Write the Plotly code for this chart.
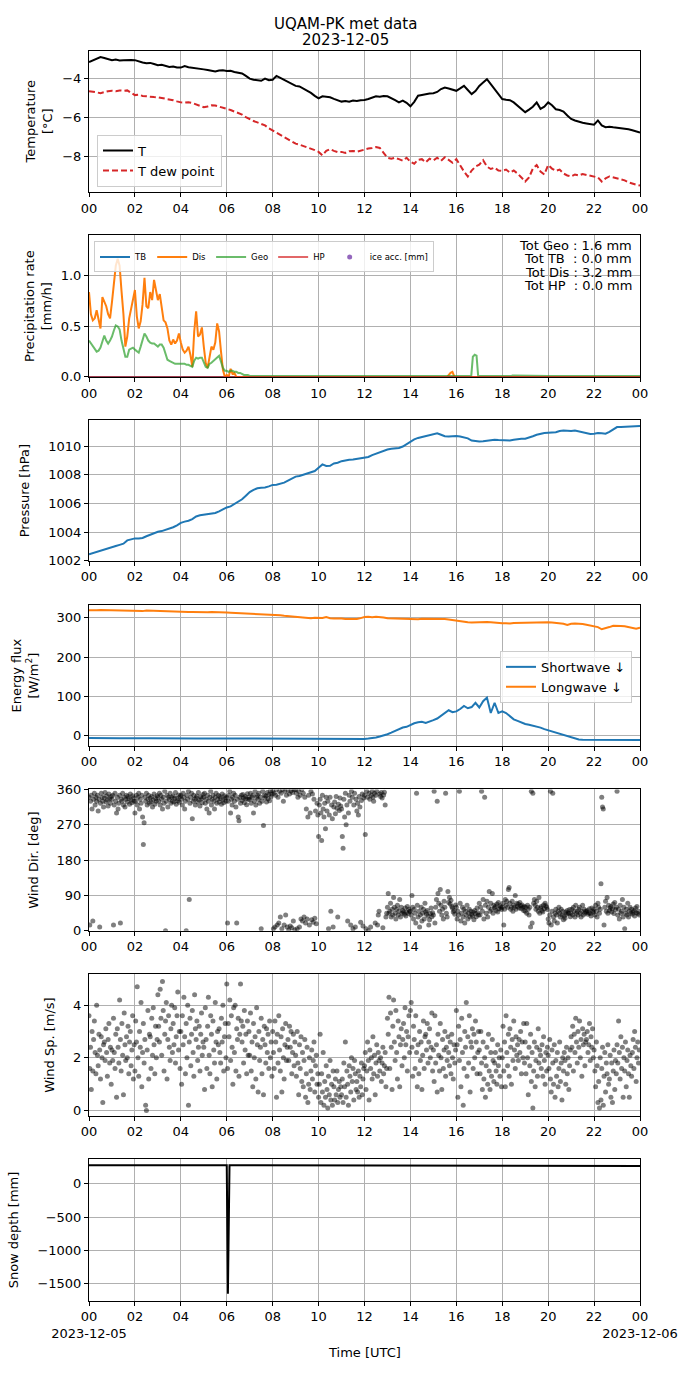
import pandas as pd
import plotly.graph_objects as go
from plotly.subplots import make_subplots

day = pd.Timestamp("2023-12-05")
t10 = pd.date_range(day, periods=145, freq="10min")
t5_early = pd.date_range(day, periods=85, freq="5min")
t2 = pd.date_range(day, periods=720, freq="2min")

hour_labels = ["00", "02", "04", "06", "08", "10", "12", "14", "16", "18", "20", "22", "00"]
bottom_labels = ["00<br>2023-12-05", "02", "04", "06", "08", "10", "12", "14", "16", "18", "20", "22",
                 "00<br>2023-12-06"]

# temperature, 10 min
temp = [-3.18, -3.10, -3.02, -2.92, -2.97, -3.04,
        -3.08, -3.05, -3.10, -3.08, -3.06, -3.07,
        -3.08, -3.15, -3.20, -3.24, -3.22, -3.28,
        -3.34, -3.32, -3.38, -3.43, -3.40, -3.45,
        -3.46, -3.38, -3.44, -3.46, -3.48, -3.52,
        -3.55, -3.58, -3.62, -3.66, -3.61, -3.60,
        -3.63, -3.62, -3.68, -3.71, -3.76, -3.88,
        -4.02, -4.08, -4.12, -4.13, -4.02, -4.10,
        -4.08, -3.88, -3.98, -4.08, -4.18, -4.28,
        -4.39, -4.42, -4.52, -4.64, -4.75, -4.90,
        -5.03, -4.92, -4.95, -4.97, -5.05, -5.12,
        -5.19, -5.16, -5.20, -5.14, -5.16, -5.12,
        -5.11, -5.06, -5.00, -4.92, -4.94, -4.90,
        -4.92, -5.00, -5.12, -5.23, -5.14, -5.25,
        -5.43, -5.20, -4.89, -4.85, -4.80, -4.78,
        -4.76, -4.70, -4.55, -4.47, -4.52, -4.58,
        -4.64, -4.52, -4.39, -4.60, -4.81, -4.65,
        -4.39, -4.22, -4.05, -4.30, -4.55, -4.85,
        -5.06, -5.10, -5.12, -5.23, -5.40, -5.60,
        -5.73, -5.60, -5.45, -5.23, -5.56, -5.45,
        -5.23, -5.38, -5.58, -5.62, -5.70, -5.90,
        -6.07, -6.15, -6.22, -6.27, -6.30, -6.35,
        -6.37, -6.15, -6.40, -6.49, -6.47, -6.50,
        -6.52, -6.54, -6.57, -6.60, -6.65, -6.70,
        -6.77]
dewpoint = [-4.66, -4.68, -4.72, -4.76, -4.70, -4.66,
            -4.64, -4.66, -4.62, -4.64, -4.62, -4.72,
            -4.86, -4.84, -4.90, -4.92, -4.95, -4.96,
            -4.97, -5.00, -5.05, -5.09, -5.12, -5.18,
            -5.23, -5.24, -5.22, -5.26, -5.34, -5.42,
            -5.48, -5.44, -5.38, -5.39, -5.46, -5.52,
            -5.56, -5.62, -5.70, -5.76, -5.85, -5.98,
            -6.10, -6.18, -6.25, -6.32, -6.40, -6.55,
            -6.66, -6.75, -6.88, -6.99, -7.10, -7.22,
            -7.33, -7.38, -7.45, -7.50, -7.58, -7.66,
            -7.75, -7.92, -7.70, -7.61, -7.70, -7.76,
            -7.75, -7.80, -7.72, -7.70, -7.74, -7.68,
            -7.61, -7.58, -7.55, -7.50, -7.55, -7.80,
            -8.05, -8.10, -8.05, -8.12, -8.20, -8.05,
            -8.25, -8.35, -8.15, -8.12, -8.28, -8.10,
            -8.18, -8.05, -8.20, -8.02, -8.15, -8.30,
            -8.12, -8.45, -8.75, -9.00, -8.70, -8.50,
            -8.40, -8.17, -8.50, -8.62, -8.55, -8.70,
            -8.72, -8.65, -8.80, -8.70, -8.85, -9.05,
            -9.26, -9.05, -8.60, -8.42, -8.75, -8.90,
            -8.42, -8.60, -8.72, -8.65, -8.85, -8.95,
            -9.00, -8.90, -8.95, -8.88, -8.92, -8.95,
            -8.98, -9.05, -9.26, -9.10, -9.00, -9.05,
            -9.08, -9.15, -9.20, -9.30, -9.38, -9.42,
            -9.46]

# precipitation rate [mm/h], 5 min until 07 h, then sparse points
dis_early = [0.84, 0.62, 0.56, 0.58, 0.66, 0.55, 0.48, 0.79, 0.75, 0.70, 0.62, 0.58,
             0.74, 0.95, 1.10, 1.17, 1.10, 0.85, 0.62, 0.30, 0.40, 0.58, 0.68, 0.78,
             0.86, 0.60, 0.48, 0.55, 0.72, 0.98, 0.70, 0.68, 0.84, 0.76, 0.96, 0.86,
             0.76, 0.82, 0.70, 0.56, 0.54, 0.48, 0.36, 0.32, 0.37, 0.33, 0.36, 0.43,
             0.34, 0.27, 0.24, 0.26, 0.30, 0.22, 0.10, 0.45, 0.65, 0.40, 0.42, 0.49,
             0.30, 0.14, 0.09, 0.18, 0.30, 0.27, 0.34, 0.53, 0.45, 0.25, 0.07, 0.00,
             0.02, 0.00, 0.08, 0.03, 0.04, 0.00, 0.00, 0.00, 0.00, 0.00, 0.00, 0.00,
             0.00]
geo_early = [0.36, 0.33, 0.31, 0.28, 0.25, 0.26, 0.29, 0.35, 0.41, 0.36, 0.33, 0.36,
             0.40, 0.46, 0.51, 0.50, 0.47, 0.36, 0.26, 0.20, 0.20, 0.27, 0.28, 0.29,
             0.27, 0.25, 0.24, 0.30, 0.36, 0.43, 0.40, 0.36, 0.34, 0.33, 0.33, 0.31,
             0.30, 0.32, 0.32, 0.29, 0.22, 0.17, 0.16, 0.15, 0.14, 0.13, 0.13, 0.13,
             0.13, 0.13, 0.13, 0.12, 0.12, 0.11, 0.10, 0.16, 0.19, 0.18, 0.19, 0.19,
             0.15, 0.10, 0.09, 0.13, 0.14, 0.16, 0.17, 0.20, 0.21, 0.15, 0.09, 0.06,
             0.06, 0.05, 0.06, 0.06, 0.05, 0.05, 0.04, 0.04, 0.03, 0.02, 0.02, 0.02,
             0.01]
dis_late_hours = [8, 12, 15.6, 15.75, 15.83, 15.92, 20, 24]
dis_late = [0.0, 0.0, 0.0, 0.04, 0.05, 0.0, 0.0, 0.0]
geo_late_hours = [8, 9.5, 9.6, 9.7, 12, 14, 16.65, 16.72, 16.8, 16.88, 16.95, 18.4, 18.45, 20, 21.8, 21.85, 24]
geo_late = [0.01, 0.01, 0.015, 0.01, 0.01, 0.01, 0.01, 0.20, 0.22, 0.21, 0.01, 0.01, 0.015, 0.01, 0.01, 0.015, 0.01]
zero_hours = [0, 24]
tb_rate = [0.0, 0.0]
hp_rate = [0.0, 0.0]
totals = ["Tot Geo : 1.6 mm", "Tot TB \u00a0: 0.0 mm", "Tot Dis : 3.2 mm", "Tot HP \u00a0: 0.0 mm"]

pressure = [1002.46, 1002.55, 1002.64, 1002.72, 1002.80, 1002.88,
            1002.97, 1003.04, 1003.12, 1003.20, 1003.43, 1003.48,
            1003.57, 1003.56, 1003.60, 1003.72, 1003.84, 1003.92,
            1004.03, 1004.08, 1004.16, 1004.26, 1004.35, 1004.48,
            1004.65, 1004.74, 1004.80, 1004.92, 1005.10, 1005.18,
            1005.23, 1005.26, 1005.30, 1005.34, 1005.46, 1005.60,
            1005.73, 1005.80, 1005.95, 1006.15, 1006.30, 1006.55,
            1006.80, 1006.96, 1007.07, 1007.10, 1007.12, 1007.20,
            1007.30, 1007.32, 1007.38, 1007.46, 1007.60, 1007.74,
            1007.88, 1007.92, 1008.02, 1008.10, 1008.20, 1008.27,
            1008.50, 1008.73, 1008.62, 1008.64, 1008.80, 1008.85,
            1008.96, 1009.02, 1009.05, 1009.08, 1009.12, 1009.15,
            1009.19, 1009.25, 1009.38, 1009.49, 1009.60, 1009.70,
            1009.77, 1009.82, 1009.85, 1009.88, 1009.98, 1010.15,
            1010.35, 1010.48, 1010.58, 1010.65, 1010.72, 1010.80,
            1010.85, 1010.90, 1010.80, 1010.70, 1010.68, 1010.72,
            1010.72, 1010.68, 1010.62, 1010.55, 1010.40, 1010.35,
            1010.33, 1010.35, 1010.40, 1010.42, 1010.45, 1010.43,
            1010.42, 1010.38, 1010.40, 1010.45, 1010.50, 1010.52,
            1010.53, 1010.60, 1010.70, 1010.80, 1010.88, 1010.92,
            1010.94, 1010.96, 1010.98, 1011.06, 1011.10, 1011.08,
            1011.06, 1011.10, 1011.05, 1010.98, 1010.90, 1010.86,
            1010.88, 1010.92, 1010.90, 1010.88, 1011.00, 1011.20,
            1011.34, 1011.35, 1011.36, 1011.37, 1011.38, 1011.40,
            1011.42]

shortwave = [-5.5, -5.8, -6.0, -5.9, -6.1, -6.0,
             -6.2, -6.0, -6.3, -6.1, -6.4, -6.2,
             -6.3, -6.5, -6.4, -6.2, -6.3, -6.5,
             -6.4, -6.2, -6.3, -6.5, -6.4, -6.3,
             -6.2, -6.4, -6.3, -6.5, -6.6, -6.4,
             -6.5, -6.3, -6.6, -6.4, -6.5, -6.7,
             -6.8, -6.6, -6.7, -6.9, -6.8, -7.0,
             -6.9, -7.1, -7.0, -6.8, -7.0, -7.2,
             -7.1, -7.0, -7.2, -7.3, -7.1, -7.0,
             -7.2, -7.4, -7.3, -7.5, -7.6, -7.8,
             -8.0, -8.2, -8.1, -8.4, -8.6, -8.8,
             -9.2, -9.0, -8.7, -8.4, -8.2, -8.0,
             -7.8, -7.0, -6.0, -4.0, -1.5, 1.0,
             4.0, 8.0, 12.5, 17.0, 21.0, 23.0,
             28.0, 32.0, 34.5, 36.0, 33.0, 37.5,
             40.0, 44.0, 51.0, 58.0, 65.0, 60.0,
             62.0, 68.0, 76.0, 70.0, 73.0, 84.0,
             72.0, 88.0, 97.0, 58.0, 84.0, 58.0,
             62.0, 58.0, 50.0, 42.0, 38.0, 33.0,
             30.0, 28.0, 26.0, 23.0, 21.0, 17.0,
             14.0, 11.0, 9.0, 6.0, 3.0, 0.0,
             -4.0, -7.0, -9.0, -10.0, -10.0, -9.6,
             -9.8, -10.0, -10.2, -10.0, -9.8, -10.3,
             -10.5, -10.6, -10.2, -10.4, -10.5, -10.6,
             -10.5]
longwave = [318.6, 318.0, 318.8, 319.5, 319.2, 319.0,
            319.4, 318.8, 319.2, 318.5, 318.2, 318.0,
            317.8, 317.2, 316.5, 318.0, 317.5, 317.2,
            317.0, 316.5, 316.0, 315.8, 315.2, 314.8,
            314.0, 313.8, 314.2, 314.5, 314.0, 314.6,
            314.0, 313.5, 314.0, 313.2, 313.0, 312.8,
            312.7, 312.5, 312.0, 311.5, 311.0, 310.8,
            310.0, 310.5, 309.8, 309.0, 308.2, 307.5,
            306.8, 307.2, 306.0, 304.5, 303.5, 302.5,
            301.7, 301.0, 300.5, 299.0, 298.5, 299.5,
            300.0, 299.0, 301.5, 298.5, 297.8, 298.2,
            297.5, 296.8, 297.2, 295.8, 296.5, 298.8,
            301.7, 302.0, 301.2, 302.5, 301.8, 300.5,
            298.3, 297.8, 298.0, 297.5, 296.8, 296.0,
            295.8, 296.5, 296.0, 297.0, 297.2, 296.8,
            297.5, 297.0, 297.8, 296.5, 295.2, 293.5,
            291.6, 290.5, 290.0, 288.2, 287.4, 287.8,
            289.0, 288.5, 288.8, 288.2, 287.0, 286.2,
            285.6, 286.0, 285.2, 286.5, 286.8, 285.8,
            286.5, 286.0, 286.8, 287.2, 288.0, 288.5,
            288.0, 287.5, 287.0, 286.2, 284.5, 281.4,
            284.5, 285.2, 284.8, 283.6, 282.0, 280.5,
            278.9, 276.0, 270.4, 272.5, 276.0, 279.5,
            280.2, 279.0, 278.2, 276.5, 274.5, 272.0,
            274.6]

# wind, 2 min samples (30 per hour, one row per hour)
wind_dir = [
    340, 15, 330, 345, 310, 25, 335, 350, 320, 340, 330, 345, 305, 335, 10, 325, 350, 340, 330, 315, 338, 352, 328, 343, 333, 318, 348, 336, 325, 342,
    335, 345, 15, 320, 350, 330, 300, 340, 310, 325, 345, 20, 335, 330, 350, 320, 340, 315, 335, 345, 328, 342, 337, 322, 348, 333, 326, 344, 338, 330,
    300, 330, 345, 320, 340, 350, 310, 335, 325, 345, 290, 220, 275, 340, 330, 350, 320, 335, 345, 325, 338, 328, 342, 315, 333, 348, 322, 337, 330, 344,
    340, 330, 350, 320, 345, 335, 310, 340, 325, 355, 0, 330, 345, 315, 340, 335, 350, 325, 340, 330, 343, 328, 338, 352, 322, 336, 331, 346, 327, 341,
    345, 335, 320, 350, 340, 310, 330, 0, 345, 335, 355, 80, 325, 340, 350, 285, 330, 345, 335, 320, 338, 343, 328, 352, 333, 318, 341, 336, 326, 347,
    340, 350, 325, 335, 310, 345, 330, 300, 340, 355, 320, 335, 345, 330, 310, 340, 350, 325, 335, 345, 328, 342, 337, 322, 348, 333, 326, 344, 338, 330,
    340, 20, 330, 345, 355, 300, 335, 320, 340, 350, 330, 345, 315, 20, 335, 290, 280, 340, 325, 345, 332, 347, 338, 326, 342, 336, 321, 349, 334, 340,
    335, 350, 325, 340, 345, 300, 330, 355, 320, 340, 345, 335, 350, 325, 340, 5, 330, 355, 268, 345, 338, 343, 328, 352, 336, 347, 331, 356, 342, 348,
    355, 5, 350, 10, 345, 360, 15, 340, 20, 355, 35, 350, 5, 360, 330, 15, 355, 40, 345, 10, 358, 2, 348, 12, 356, 8, 352, 25, 359, 3,
    360, 350, 5, 340, 355, 10, 345, 30, 360, 25, 350, 35, 340, 20, 310, 30, 290, 345, 15, 300, 355, 28, 348, 22, 335, 32, 305, 18, 325, 295,
    240, 320, 335, 300, 230, 345, 310, 290, 325, 260, 340, 305, 330, 5, 295, 340, 50, 320, 285, 10, 315, 328, 298, 342, 312, 35, 322, 306, 338, 318,
    310, 240, 210, 335, 290, 350, 270, 320, 25, 300, 345, 330, 15, 355, 340, 5, 320, 350, 10, 335, 305, 325, 295, 342, 315, 22, 332, 348, 12, 338,
    345, 245, 5, 355, 340, 0, 350, 335, 10, 345, 355, 340, 330, 350, 20, 345, 355, 15, 40, 50, 348, 342, 352, 338, 8, 346, 353, 320, 35, 45,
    60, 95, 45, 50, 70, 35, 55, 40, 85, 60, 45, 30, 55, 65, 40, 50, 80, 35, 60, 45, 52, 48, 42, 58, 38, 47, 62, 44, 55, 50,
    50, 40, 90, 60, 30, 55, 45, 20, 350, 65, 35, 50, 10, 40, 60, 25, 45, 55, 30, 70, 48, 42, 52, 38, 15, 28, 44, 58, 36, 46,
    40, 355, 20, 60, 80, 330, 95, 70, 50, 105, 65, 40, 55, 30, 75, 60, 350, 45, 35, 100, 72, 85, 68, 78, 62, 58, 48, 52, 42, 66,
    60, 30, 50, 40, 355, 70, 25, 45, 60, 35, 55, 20, 50, 40, 65, 30, 45, 55, 35, 50, 42, 38, 48, 28, 52, 44, 36, 58, 46, 40,
    70, 40, 60, 355, 50, 80, 30, 340, 65, 45, 75, 35, 60, 100, 50, 70, 55, 95, 45, 65, 58, 62, 52, 68, 48, 72, 56, 64, 60, 54,
    60, 70, 15, 55, 80, 65, 75, 60, 105, 110, 70, 55, 60, 75, 50, 65, 60, 90, 55, 70, 62, 68, 58, 72, 64, 56, 66, 60, 52, 62,
    50, 60, 45, 65, 55, 40, 60, 10, 355, 20, 350, 70, 80, 65, 55, 75, 60, 50, 85, 45, 58, 62, 52, 48, 66, 56, 70, 64, 60, 54,
    30, 20, 40, 355, 15, 50, 350, 35, 25, 45, 55, 40, 20, 50, 60, 45, 35, 55, 40, 50, 28, 38, 32, 48, 42, 52, 46, 44, 54, 36,
    45, 55, 40, 60, 50, 35, 65, 45, 50, 40, 55, 60, 45, 35, 50, 65, 40, 55, 45, 50, 48, 52, 42, 46, 56, 44, 38, 58, 50, 47,
    55, 40, 65, 50, 35, 70, 60, 45, 55, 120, 340, 315, 310, 15, 60, 75, 50, 85, 45, 65, 52, 58, 62, 48, 56, 68, 44, 72, 54, 60,
    355, 40, 55, 30, 65, 45, 50, 80, 35, 60, 5, 45, 55, 40, 70, 35, 50, 60, 45, 55, 42, 48, 52, 38, 58, 46, 62, 44, 50, 40]
wind_speed = [
    3.6, 1.6, 2.4, 0.8, 3.0, 1.5, 2.7, 3.4, 2.2, 1.4, 4.0, 2.1, 1.7, 2.9, 2.3, 1.2, 2.8, 2.0, 0.3, 2.5, 2.6, 1.9, 3.1, 2.2, 1.3, 2.7, 3.3, 1.8, 2.4, 1.0,
    2.3, 1.9, 3.5, 2.2, 1.6, 2.9, 0.5, 3.1, 2.4, 1.8, 4.2, 2.7, 1.5, 3.3, 2.1, 0.6, 3.7, 2.5, 1.9, 2.8, 2.0, 3.2, 1.4, 2.6, 3.0, 1.7, 2.3, 3.6, 1.2, 2.5,
    1.5, 3.4, 2.6, 4.7, 2.0, 1.3, 3.0, 2.4, 4.1, 0.9, 2.2, 3.3, 1.8, 2.7, 0.2, 0.0, 2.3, 3.8, 1.2, 2.9, 2.8, 1.6, 3.5, 2.1, 3.9, 2.5, 1.4, 3.2, 2.0, 2.7,
    4.4, 3.2, 2.6, 4.6, 3.5, 2.1, 4.9, 3.8, 1.5, 2.9, 3.4, 4.1, 1.2, 2.7, 3.6, 2.4, 1.9, 3.1, 4.0, 2.2, 3.3, 2.5, 3.9, 1.8, 2.8, 3.6, 4.5, 2.3, 3.0, 1.6,
    3.0, 1.0, 3.6, 2.5, 4.3, 2.8, 1.4, 3.3, 2.0, 4.0, 0.2, 2.6, 3.5, 1.7, 2.9, 3.8, 2.2, 1.3, 4.4, 3.1, 2.7, 3.4, 1.9, 2.4, 3.2, 1.5, 2.9, 3.7, 2.1, 2.6,
    2.4, 0.8, 3.9, 2.7, 1.6, 3.2, 4.3, 2.1, 1.4, 3.6, 2.9, 0.9, 3.4, 2.3, 1.8, 4.1, 2.6, 1.2, 3.0, 2.5, 3.1, 2.2, 1.8, 3.5, 2.6, 4.0, 1.5, 2.8, 3.3, 2.0,
    4.8, 1.6, 3.3, 2.8, 4.2, 1.9, 3.6, 2.4, 1.0, 3.9, 2.2, 4.0, 1.5, 3.1, 2.7, 3.5, 1.3, 2.9, 4.8, 3.4, 2.6, 3.2, 1.8, 3.8, 2.3, 2.9, 1.4, 3.4, 2.1, 3.0,
    2.1, 3.7, 1.5, 2.6, 0.9, 3.3, 2.0, 2.8, 1.2, 3.9, 2.5, 0.7, 3.0, 1.9, 2.4, 3.5, 1.4, 2.7, 0.6, 3.2, 2.5, 1.8, 3.1, 2.2, 2.9, 1.6, 3.4, 2.0, 2.6, 1.3,
    3.0, 2.2, 1.6, 3.4, 2.6, 0.5, 2.9, 1.8, 3.6, 2.3, 1.5, 2.8, 0.7, 3.1, 2.0, 1.2, 2.5, 3.3, 1.9, 2.4, 2.7, 1.9, 3.2, 2.4, 3.0, 1.4, 2.2, 2.9, 1.7, 2.6,
    2.1, 1.3, 3.0, 1.8, 0.6, 2.5, 1.6, 2.8, 1.1, 2.2, 0.9, 1.9, 2.7, 0.5, 1.4, 2.4, 0.3, 1.0, 2.0, 0.8, 1.5, 2.3, 1.2, 1.9, 2.6, 0.7, 1.7, 2.1, 1.0, 1.4,
    0.5, 1.0, 2.9, 0.3, 1.4, 0.7, 2.2, 0.2, 1.1, 0.5, 1.7, 0.8, 0.1, 1.3, 0.6, 1.9, 0.4, 1.0, 0.2, 1.5, 0.9, 0.4, 1.2, 0.6, 1.5, 0.3, 0.8, 1.1, 0.5, 0.9,
    0.6, 1.2, 0.3, 1.8, 0.9, 2.6, 0.5, 1.5, 1.0, 0.2, 1.7, 1.3, 0.7, 2.0, 1.1, 1.6, 0.4, 1.9, 1.4, 0.8, 1.1, 0.7, 1.5, 0.5, 1.3, 0.9, 1.8, 0.6, 1.2, 1.6,
    1.7, 2.2, 0.8, 1.5, 2.6, 1.9, 0.4, 2.3, 1.6, 2.0, 1.2, 2.8, 1.4, 2.1, 0.6, 1.8, 2.5, 1.3, 2.2, 1.9, 1.5, 2.0, 1.1, 1.8, 2.4, 1.4, 1.7, 2.2, 0.9, 1.6,
    3.5, 2.9, 4.3, 1.6, 3.7, 2.4, 0.8, 3.2, 4.2, 2.6, 1.9, 3.8, 2.2, 1.2, 3.4, 2.8, 0.9, 2.5, 3.1, 1.7, 2.7, 3.3, 2.0, 3.9, 2.5, 3.0, 1.5, 2.8, 3.6, 2.2,
    3.8, 4.1, 2.4, 1.3, 3.2, 2.7, 1.6, 3.6, 2.2, 0.9, 2.5, 1.4, 3.0, 1.9, 2.6, 0.8, 2.1, 3.4, 1.6, 2.8, 2.9, 2.3, 3.3, 1.8, 2.6, 3.1, 2.0, 2.4, 3.7, 1.5,
    2.3, 1.1, 3.6, 1.8, 2.5, 0.7, 2.9, 2.1, 1.5, 3.3, 2.0, 0.8, 2.7, 1.6, 2.3, 3.0, 1.3, 2.4, 1.9, 2.8, 2.2, 1.7, 2.6, 1.4, 2.9, 2.0, 1.2, 2.5, 1.8, 2.3,
    3.8, 2.5, 0.5, 3.2, 1.9, 2.7, 0.9, 3.5, 2.2, 0.2, 1.6, 3.0, 2.4, 4.1, 1.3, 2.8, 1.8, 3.6, 0.7, 2.6, 2.4, 3.1, 1.6, 2.9, 2.0, 3.4, 2.6, 1.4, 2.2, 3.0,
    2.3, 1.4, 3.0, 1.8, 0.8, 2.6, 1.2, 2.0, 0.5, 1.7, 2.4, 1.0, 2.9, 1.5, 0.8, 2.2, 1.3, 2.7, 1.9, 1.1, 1.8, 2.2, 1.5, 1.0, 2.5, 1.7, 2.0, 1.3, 2.3, 0.9,
    2.0, 3.2, 1.5, 2.6, 0.9, 3.6, 2.2, 1.7, 2.9, 1.3, 3.1, 2.4, 1.0, 2.7, 1.9, 3.4, 2.3, 1.6, 2.8, 2.1, 2.5, 1.9, 2.7, 2.2, 3.0, 1.4, 2.6, 2.0, 3.3, 1.8,
    2.6, 1.4, 3.3, 2.0, 0.6, 2.4, 1.7, 2.9, 1.1, 2.2, 0.1, 1.5, 2.6, 0.9, 1.9, 2.4, 1.3, 3.1, 1.8, 2.3, 2.1, 1.6, 2.5, 1.3, 2.8, 1.9, 1.0, 2.2, 1.5, 2.4,
    2.1, 1.6, 2.7, 1.2, 0.7, 2.3, 1.8, 1.0, 2.5, 0.5, 1.9, 1.3, 2.2, 0.9, 1.6, 2.6, 1.1, 1.8, 0.4, 2.0, 1.5, 2.2, 1.9, 1.0, 2.4, 1.4, 2.0, 0.8, 1.7, 2.3,
    2.8, 2.4, 3.2, 1.5, 2.9, 2.2, 3.5, 2.6, 1.8, 3.0, 2.4, 3.4, 2.0, 2.7, 1.3, 3.1, 2.5, 2.9, 1.7, 2.6, 2.7, 3.0, 2.2, 2.5, 3.3, 1.9, 2.8, 2.4, 3.1, 2.0,
    2.3, 1.5, 0.9, 2.6, 1.7, 0.3, 1.1, 0.1, 2.0, 0.4, 1.6, 2.4, 0.2, 1.3, 2.2, 0.7, 1.8, 1.4, 2.5, 1.0, 1.2, 2.1, 0.5, 1.8, 0.3, 1.5, 2.3, 0.8, 1.9, 1.4,
    2.5, 1.8, 3.4, 2.2, 1.2, 2.8, 1.6, 2.4, 0.5, 2.0, 1.5, 2.6, 0.9, 1.9, 2.3, 1.4, 0.5, 2.1, 1.7, 1.3, 2.2, 2.7, 1.6, 3.0, 2.4, 1.1, 2.0, 2.6, 1.8, 2.3]

snow_hours = [0, 1, 2, 3, 4, 5, 6, 6.05, 6.12, 7, 8, 9, 10, 11, 12, 13, 14, 15, 16, 17, 18, 19, 20, 21, 22, 23, 24]
snow_depth = [279, 279, 279, 278, 278, 278, 278, -1654, 280, 279, 278, 277, 276, 276, 275, 274, 274, 273, 272,
              271, 271, 270, 270, 269, 269, 268, 268]


def at_hours(hours):
    return day + pd.to_timedelta(hours, unit="h")


H = 1377
panels_px = [(44, 187), (231, 374), (418, 560), (605, 747), (791, 934), (978, 1121), (1165, 1308)]

fig = make_subplots(rows=7, cols=1)

# temperature
fig.add_trace(go.Scatter(x=t10, y=temp, name="T", mode="lines", line=dict(color="black", width=2),
                         legend="legend"), row=1, col=1)
fig.add_trace(go.Scatter(x=t10, y=dewpoint, name="T dew point", mode="lines",
                         line=dict(color="#d62728", width=2, dash="6px,3px"), legend="legend"), row=1, col=1)

# precipitation
fig.add_trace(go.Scatter(x=at_hours(zero_hours), y=tb_rate, name="TB", mode="lines",
                         line=dict(color="#1f77b4", width=2), legend="legend2"), row=2, col=1)
fig.add_trace(go.Scatter(x=list(t5_early) + list(at_hours(dis_late_hours)), y=dis_early + dis_late, name="Dis",
                         mode="lines", line=dict(color="#ff7f0e", width=2), legend="legend2"), row=2, col=1)
fig.add_trace(go.Scatter(x=list(t5_early) + list(at_hours(geo_late_hours)), y=geo_early + geo_late, name="Geo",
                         mode="lines", line=dict(color="#2ca02c", width=2), opacity=0.7, legend="legend2"),
              row=2, col=1)
fig.add_trace(go.Scatter(x=at_hours(zero_hours), y=hp_rate, name="HP", mode="lines",
                         line=dict(color="#d62728", width=2), opacity=0.7, legend="legend2"), row=2, col=1)
fig.add_trace(go.Scatter(x=[day], y=[None], name="ice acc. [mm]", mode="markers",
                         marker=dict(color="#9467bd", size=5), legend="legend2"), row=2, col=1)

# pressure
fig.add_trace(go.Scatter(x=t10, y=pressure, mode="lines", line=dict(color="#1f77b4", width=2),
                         showlegend=False), row=3, col=1)

# radiation
fig.add_trace(go.Scatter(x=t10, y=shortwave, name="Shortwave \u2193", mode="lines",
                         line=dict(color="#1f77b4", width=2), legend="legend3"), row=4, col=1)
fig.add_trace(go.Scatter(x=t10, y=longwave, name="Longwave \u2193", mode="lines",
                         line=dict(color="#ff7f0e", width=2), legend="legend3"), row=4, col=1)

# wind
fig.add_trace(go.Scatter(x=t2, y=wind_dir, mode="markers", showlegend=False,
                         marker=dict(color="black", size=5, opacity=0.5, line=dict(width=0))), row=5, col=1)
fig.add_trace(go.Scatter(x=t2, y=wind_speed, mode="markers", showlegend=False,
                         marker=dict(color="black", size=5, opacity=0.5, line=dict(width=0))), row=6, col=1)

# snow
fig.add_trace(go.Scatter(x=at_hours(snow_hours), y=snow_depth, mode="lines", line=dict(color="black", width=2),
                         showlegend=False), row=7, col=1)

tickvals = pd.date_range(day, periods=13, freq="2h")
axis_style = dict(showline=True, mirror=True, linecolor="black", linewidth=1, ticks="outside", ticklen=4,
                  tickcolor="black", showgrid=True, gridcolor="#b0b0b0", gridwidth=0.8, zeroline=False,
                  tickfont=dict(size=13, color="black"))
for i in range(7):
    top, bottom = panels_px[i]
    fig.update_yaxes(domain=[1 - bottom / H, 1 - top / H], row=i + 1, col=1, **axis_style)
    fig.update_xaxes(range=[day, day + pd.Timedelta(hours=24)], tickmode="array", tickvals=tickvals,
                     ticktext=bottom_labels if i == 6 else hour_labels, tickangle=0, row=i + 1, col=1,
                     **axis_style)

title_font = dict(size=13, color="black")
fig.update_yaxes(range=[-9.79, -2.59], dtick=2,
                 title=dict(text="Temperature<br>[°C]", font=title_font, standoff=6), row=1, col=1)
fig.update_yaxes(range=[0, 1.4], tickvals=[0, 0.5, 1.0], tickformat=".1f",
                 title=dict(text="Precipitation rate<br>[mm/h]", font=title_font, standoff=6), row=2, col=1)
fig.update_yaxes(range=[1002, 1011.8], dtick=2, title=dict(text="Pressure [hPa]", font=title_font), row=3, col=1)
fig.update_yaxes(range=[-25.4, 331], dtick=100, title=dict(text="Energy flux<br>[W/m<sup>2</sup>]", font=title_font),
                 row=4, col=1)
fig.update_yaxes(range=[0, 360], dtick=90, title=dict(text="Wind Dir. [deg]", font=title_font), row=5, col=1)
fig.update_yaxes(range=[-0.2, 5.17], dtick=2, title=dict(text="Wind Sp. [m/s]", font=title_font), row=6, col=1)
fig.update_yaxes(range=[-1759, 368], tickvals=[-1500, -1000, -500, 0],
                 title=dict(text="Snow depth [mm]", font=title_font), row=7, col=1)

title_x = (345 - 89) / 551
annotations = [
    dict(text="UQAM-PK met data", x=title_x, xref="paper", y=1 - 17 / H, yref="paper", showarrow=False,
         font=dict(size=15, color="black"), xanchor="center", yanchor="middle"),
    dict(text="2023-12-05", x=title_x, xref="paper", y=1 - 33 / H, yref="paper", showarrow=False,
         font=dict(size=15, color="black"), xanchor="center", yanchor="middle"),
    dict(text="Time [UTC]", x=0.5, xref="paper", y=1 - 1360 / H, yref="paper", showarrow=False,
         font=dict(size=13, color="black"), xanchor="center", yanchor="middle"),
]
for k, line in enumerate(totals):
    annotations.append(dict(text=line, x=(634 - 89) / 551, xref="paper", y=1 - (241 + 13.6 * k) / H, yref="paper",
                            showarrow=False, xanchor="right", yanchor="middle", font=dict(size=13, color="black")))

fig.update_layout(
    width=690, height=H,
    margin=dict(l=89, r=50, t=0, b=0),
    paper_bgcolor="white", plot_bgcolor="white",
    font=dict(family="DejaVu Sans", size=13, color="black"),
    annotations=annotations,
    legend=dict(x=(97 - 89) / 551, y=1 - 129 / H, xanchor="left", yanchor="top", bgcolor="rgba(255,255,255,0.8)",
                bordercolor="#cccccc", borderwidth=1, font=dict(size=13), tracegroupgap=0),
    legend2=dict(x=(94 - 89) / 551, y=1 - 237 / H, xanchor="left", yanchor="top", orientation="h",
                 bgcolor="rgba(255,255,255,0.8)", bordercolor="#cccccc", borderwidth=1, font=dict(size=8.5),
                 itemwidth=30),
    legend3=dict(x=(632 - 89) / 551, y=1 - 651 / H, xanchor="right", yanchor="top", bgcolor="rgba(255,255,255,0.8)",
                 bordercolor="#cccccc", borderwidth=1, font=dict(size=13)),
)

fig.write_html("out.html", config={"displayModeBar": False},
               post_script="document.body.style.margin='0px';")
